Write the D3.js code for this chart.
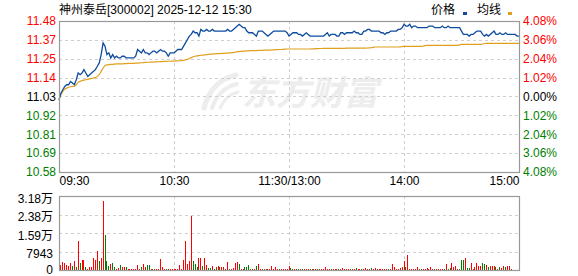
<!DOCTYPE html>
<html lang="zh">
<head>
<meta charset="UTF-8">
<title>神州泰岳 分时图</title>
<script src="https://d3js.org/d3.v7.min.js"></script>
<style>
  body { margin: 0; background: #fff; }
  svg text { font-family: "Liberation Sans", Arial, "Noto Sans CJK SC", sans-serif; font-size: 12px; }
</style>
</head>
<body>
<script>
// chart texts
const title = "神州泰岳[300002] 2025-12-12 15:30";
const priceTicks = ["11.48", "11.37", "11.25", "11.14", "11.03", "10.92", "10.81", "10.69", "10.58"];
const pctTicks = ["4.08%", "3.06%", "2.04%", "1.02%", "0.00%", "1.02%", "2.04%", "3.06%", "4.08%"];
const timeTicks = [0, 60, 120, 180, 240];
const timeLabels = ["09:30", "10:30", "11:30/13:00", "14:00", "15:00"];
const volTicks = ["3.18万", "2.38万", "1.59万", "7943", "0"];
const priceMax = 11.48, priceMin = 10.58, volMax = 31772;

// one value per minute, 09:30 .. 15:00 (241 points)
const price = [
  11.01,11.05,11.07,11.09,11.10,11.10,11.12,11.11,11.10,11.13,
  11.17,11.16,11.17,11.19,11.17,11.15,11.16,11.17,11.18,11.19,
  11.21,11.23,11.28,11.35,11.33,11.28,11.29,11.26,11.28,11.26,
  11.27,11.26,11.26,11.27,11.27,11.26,11.26,11.26,11.26,11.26,
  11.27,11.31,11.30,11.29,11.31,11.29,11.29,11.28,11.29,11.30,
  11.30,11.29,11.30,11.31,11.30,11.30,11.29,11.27,11.29,11.29,
  11.29,11.30,11.31,11.31,11.31,11.33,11.35,11.37,11.39,11.40,
  11.42,11.41,11.41,11.39,11.43,11.42,11.42,11.43,11.42,11.42,
  11.43,11.42,11.42,11.42,11.42,11.42,11.42,11.42,11.43,11.42,
  11.42,11.43,11.44,11.45,11.46,11.45,11.44,11.44,11.42,11.41,
  11.41,11.41,11.40,11.39,11.42,11.42,11.42,11.41,11.40,11.39,
  11.40,11.41,11.42,11.42,11.42,11.42,11.42,11.42,11.42,11.41,
  11.39,11.40,11.41,11.41,11.41,11.40,11.40,11.39,11.40,11.41,
  11.40,11.39,11.39,11.39,11.39,11.39,11.39,11.39,11.39,11.40,
  11.41,11.39,11.40,11.40,11.40,11.39,11.39,11.41,11.41,11.40,
  11.41,11.41,11.41,11.41,11.42,11.41,11.41,11.40,11.40,11.42,
  11.42,11.43,11.43,11.42,11.42,11.42,11.42,11.42,11.41,11.41,
  11.40,11.41,11.41,11.42,11.42,11.42,11.42,11.43,11.43,11.44,
  11.46,11.45,11.45,11.46,11.44,11.45,11.45,11.44,11.44,11.44,
  11.44,11.44,11.44,11.45,11.45,11.45,11.44,11.44,11.44,11.44,
  11.45,11.44,11.44,11.45,11.44,11.44,11.44,11.44,11.44,11.44,
  11.42,11.40,11.40,11.40,11.39,11.40,11.40,11.41,11.42,11.42,
  11.42,11.40,11.39,11.40,11.39,11.40,11.41,11.42,11.40,11.40,
  11.41,11.40,11.40,11.41,11.40,11.40,11.40,11.40,11.40,11.39,11.39
];

const avg = [
  11.010,11.040,11.060,11.075,11.080,11.085,11.088,11.090,11.090,11.100,
  11.115,11.120,11.125,11.128,11.130,11.132,11.135,11.138,11.140,11.142,
  11.150,11.160,11.180,11.200,11.215,11.218,11.220,11.222,11.222,11.223,
  11.224,11.224,11.225,11.225,11.226,11.226,11.227,11.227,11.228,11.228,
  11.229,11.229,11.230,11.231,11.232,11.233,11.234,11.234,11.235,11.235,
  11.236,11.236,11.237,11.238,11.238,11.239,11.239,11.240,11.240,11.241,
  11.241,11.242,11.242,11.243,11.244,11.245,11.248,11.252,11.256,11.262,
  11.267,11.270,11.272,11.274,11.276,11.277,11.278,11.280,11.281,11.282,
  11.283,11.284,11.285,11.285,11.286,11.287,11.287,11.288,11.289,11.290,
  11.291,11.292,11.294,11.297,11.298,11.299,11.300,11.301,11.302,11.302,
  11.303,11.303,11.304,11.304,11.305,11.305,11.305,11.306,11.306,11.307,
  11.307,11.308,11.308,11.309,11.309,11.310,11.310,11.311,11.312,11.313,
  11.313,11.313,11.313,11.313,11.313,11.313,11.313,11.313,11.313,11.313,
  11.313,11.313,11.314,11.314,11.315,11.315,11.316,11.316,11.317,11.317,
  11.317,11.317,11.317,11.317,11.317,11.317,11.317,11.317,11.317,11.317,
  11.318,11.318,11.318,11.318,11.318,11.318,11.318,11.318,11.318,11.318,
  11.318,11.319,11.320,11.321,11.323,11.325,11.325,11.325,11.325,11.325,
  11.325,11.325,11.325,11.325,11.325,11.325,11.325,11.325,11.326,11.327,
  11.329,11.329,11.329,11.329,11.329,11.329,11.329,11.329,11.329,11.329,
  11.330,11.333,11.335,11.335,11.335,11.335,11.335,11.335,11.335,11.335,
  11.335,11.335,11.335,11.335,11.335,11.335,11.335,11.335,11.335,11.338,
  11.341,11.341,11.341,11.341,11.341,11.341,11.341,11.341,11.341,11.341,
  11.341,11.343,11.346,11.347,11.347,11.347,11.347,11.347,11.347,11.347,
  11.347,11.347,11.347,11.347,11.347,11.347,11.347,11.347,11.347,11.347,11.347
];

const volume = [
  2000,2270,3430,3000,2270,1540,3000,1840,3990,1420,
  12570,3000,4290,4290,1420,560,1420,1120,5150,4420,
  8280,3990,5150,29430,15140,3990,1840,2570,3000,1420,
  560,860,2270,1120,1120,1420,560,560,560,560,
  560,2270,560,1420,2700,1420,2270,2270,560,560,
  560,560,560,4850,1420,560,560,560,560,560,
  560,560,560,2270,560,4420,12570,2700,3990,23300,
  3990,2700,1420,5280,5150,1840,5280,2270,860,860,
  1840,560,1420,1840,1420,1420,1420,560,3560,560,
  560,990,3130,3560,2700,560,560,1420,1420,2270,
  560,560,560,1840,2700,560,560,560,560,560,
  560,1840,560,1420,560,560,560,560,560,560,
  1840,860,560,560,560,560,560,560,560,560,
  560,560,560,560,560,560,560,560,560,1420,
  560,560,560,560,560,560,560,560,990,560,
  560,560,560,560,560,990,560,560,560,560,
  990,560,560,860,560,990,560,560,560,560,
  560,560,560,560,2700,1420,560,560,990,1420,
  3990,1420,6560,560,560,560,560,1420,560,560,
  560,560,990,560,1420,560,560,560,560,560,
  560,560,2700,560,990,3130,1420,1840,560,560,
  4420,4420,5280,990,990,3130,560,1420,3130,1840,
  1840,3130,2700,2270,1420,1840,1840,1840,1420,560,
  1420,990,1840,1420,1840,1840,560,0,0,0,6560
];

// r = up minute (red), g = down minute (green)
const volDir = [
  "rrrrrrrgrg","rgrrgrrrrr","rgrrgggrgg","rrgrrgrrrr","rrrgrrggrg",
  "rrrrrrgrrr","rrrrrrrrrr","gggrrgrrgg","rgrrgrrrrg","rrrrgrrggg",
  "rgrgrrgrrg","rrrrrgrrrr","rgrrggrgrr","rgrgrrgrrr","rrgrrrgrrr",
  "rrgrrgrrgr","rrrgrrrrrr","rrgrrrrrrr","rgrrrrrrrg","rrrrrrgrrr",
  "rgrggrrrrg","ggrggrrrrr","rggrgrrrgr","grrgrrrrrrg"
].join("");

const W = 578, H = 276;
const box = { l: 59, r: 519, t: 21, b: 172 };
const vbox = { l: 59, r: 519, t: 196, b: 270 };
const upColor = "#ff0000", downColor = "#008000", flatColor = "#000";
const gridColor = "#cfcfcf", frameColor = "#999";

const svg = d3.select("body").append("svg")
  .attr("width", W).attr("height", H);

const x = d3.scaleLinear().domain([0, 240]).range([box.l, box.r]);
const y = d3.scaleLinear().domain([priceMin, priceMax]).range([box.b, box.t]);
const yv = d3.scaleLinear().domain([0, volMax]).range([vbox.b, vbox.t]);

const priceVals = d3.range(priceTicks.length).map(i => priceMax - i * (priceMax - priceMin) / (priceTicks.length - 1));
const volVals = d3.range(volTicks.length).map(i => volMax - i * volMax / (volTicks.length - 1));

// watermark
const wm = svg.append("g").attr("fill", "none").attr("stroke", "#ededed").attr("stroke-linecap", "round");
wm.append("path").attr("d", "M204,108 Q211,81 236,75").attr("stroke-width", 5);
wm.append("path").attr("d", "M212,108 Q219,88 237,84").attr("stroke-width", 4);
wm.append("path").attr("d", "M220,108 Q226,95 238,92").attr("stroke-width", 3);
svg.append("text")
  .attr("x", 242).attr("y", 105)
  .style("font-family", "'Noto Sans CJK SC', sans-serif")
  .style("font-size", "34px").style("font-weight", "bold").style("font-style", "italic")
  .attr("fill", "#ededed")
  .text("东方财富");

// grid lines
function grid(g, b, yVals, yScale) {
  g.selectAll(".hg").data(yVals.slice(1, -1)).join("line")
    .attr("x1", b.l).attr("x2", b.r)
    .attr("y1", d => Math.round(yScale(d)) + 0.5).attr("y2", d => Math.round(yScale(d)) + 0.5);
  g.selectAll(".vg").data(timeTicks.slice(1, -1)).join("line")
    .attr("y1", b.t).attr("y2", b.b)
    .attr("x1", d => Math.round(x(d)) + 0.5).attr("x2", d => Math.round(x(d)) + 0.5);
}
svg.append("g").attr("stroke", gridColor).attr("stroke-dasharray", "3,3")
  .call(grid, box, priceVals, y);
svg.append("g").attr("stroke", gridColor).attr("stroke-dasharray", "3,3")
  .call(grid, vbox, volVals, yv);

// volume bars
svg.append("g").attr("shape-rendering", "crispEdges")
  .selectAll("rect").data(volume).join("rect")
  .attr("x", (d, i) => Math.floor(x(i)))
  .attr("width", 1)
  .attr("y", d => yv(d))
  .attr("height", d => vbox.b - yv(d))
  .attr("fill", (d, i) => volDir[i] === "g" ? downColor : upColor);

// price and average lines
const line = d3.line().x((d, i) => x(i)).y(d => y(d));
svg.append("path").datum(avg)
  .attr("fill", "none").attr("stroke", "#e0a01e").attr("stroke-width", 1.2)
  .attr("d", line);
svg.append("path").datum(price)
  .attr("fill", "none").attr("stroke", "#0f4c9e").attr("stroke-width", 1.3)
  .attr("d", line);

// frames
[box, vbox].forEach(b => {
  svg.append("rect")
    .attr("x", b.l + 0.5).attr("y", b.t + 0.5)
    .attr("width", b.r - b.l).attr("height", b.b - b.t)
    .attr("fill", "none").attr("stroke", frameColor).attr("stroke-width", 1.2);
});

function styleAxis(g) {
  g.attr("font-family", null).attr("font-size", null);
  g.select(".domain").remove();
}

// left price axis
svg.append("g").attr("transform", `translate(${box.l},0)`)
  .call(d3.axisLeft(y).tickValues(priceVals).tickSize(0).tickPadding(3)
    .tickFormat((d, i) => priceTicks[i]))
  .call(styleAxis)
  .selectAll("text")
  .attr("fill", (d, i) => i < 4 ? upColor : i === 4 ? flatColor : downColor);

// right percent axis
svg.append("g").attr("transform", `translate(${box.r},0)`)
  .call(d3.axisRight(y).tickValues(priceVals).tickSize(0).tickPadding(4)
    .tickFormat((d, i) => pctTicks[i]))
  .call(styleAxis)
  .selectAll("text")
  .attr("fill", (d, i) => i < 4 ? upColor : i === 4 ? flatColor : downColor);

// time axis
svg.append("g").attr("transform", `translate(0,${box.b})`)
  .call(d3.axisBottom(x).tickValues(timeTicks).tickSize(0).tickPadding(4)
    .tickFormat((d, i) => timeLabels[i]))
  .call(styleAxis)
  .selectAll("text")
  .attr("fill", "#000")
  .attr("text-anchor", (d, i) => i === 0 ? "start" : i === timeTicks.length - 1 ? "end" : "middle");

// volume axis
svg.append("g").attr("transform", `translate(${vbox.l},0)`)
  .call(d3.axisLeft(yv).tickValues(volVals).tickSize(0).tickPadding(6)
    .tickFormat((d, i) => volTicks[i]))
  .call(styleAxis)
  .selectAll("text")
  .attr("fill", "#000")
  .attr("dy", (d, i) => i === volTicks.length - 1 ? "0.3em" : "0.5em");

// title and legend
svg.append("text").attr("x", 59).attr("y", 14).attr("fill", "#000").text(title);
svg.append("text").attr("x", 431).attr("y", 14).attr("fill", "#000").text("价格");
svg.append("rect").attr("x", 463).attr("y", 12).attr("width", 4).attr("height", 3).attr("fill", "#0f4c9e");
svg.append("text").attr("x", 477).attr("y", 14).attr("fill", "#000").text("均线");
svg.append("rect").attr("x", 508).attr("y", 12).attr("width", 4).attr("height", 3).attr("fill", "#e0a01e");
</script>
</body>
</html>
